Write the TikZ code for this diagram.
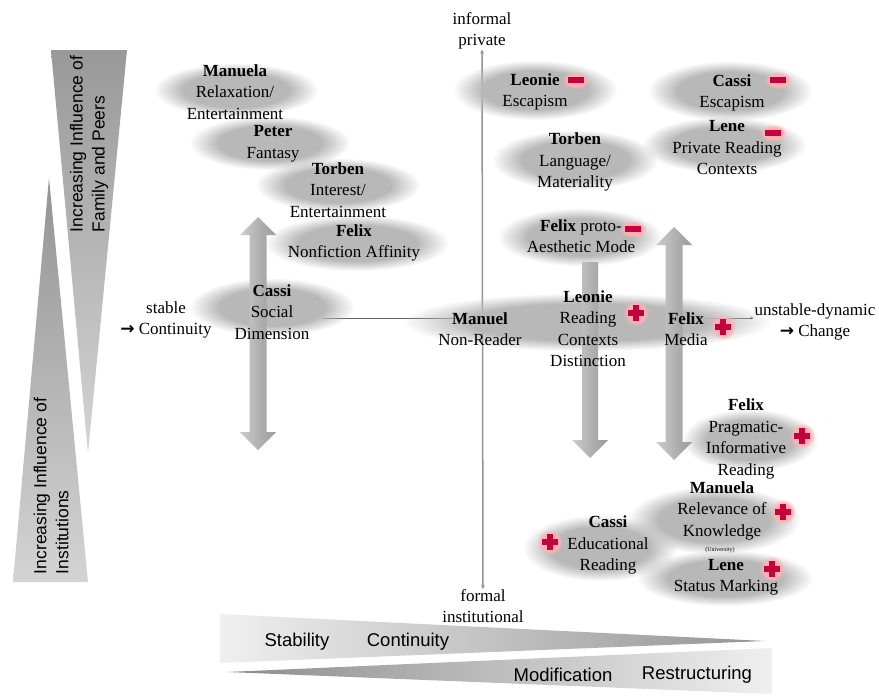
\documentclass[tikz,border=0pt]{standalone}
\usepackage{fontspec}
\setmainfont{Liberation Serif}
\newfontfamily\arialf{Liberation Sans}
\newfontfamily\djv{DejaVu Sans}
\usetikzlibrary{fadings,arrows.meta}
\pgfdeclareradialshading{blobshade}{\pgfpointorigin}{color(0bp)=(pgftransparent!0); color(16bp)=(pgftransparent!0); color(25bp)=(pgftransparent!100); color(50bp)=(pgftransparent!100)}
\pgfdeclarefading{blobfade}{\pgfuseshading{blobshade}}
\definecolor{crim}{RGB}{196,0,62}
\newcommand{\rarr}{{\djv\bfseries\fontsize{17}{17}\selectfont →}}
\tikzset{
  blob/.style={fill=black!28, path fading=blobfade},
  lab/.style={align=center, inner sep=0pt, font=\fontsize{17}{21.5}\selectfont},
  side/.style={align=left, inner sep=0pt, rotate=90, font=\arialf\fontsize{17.5}{22}\selectfont},
  bar/.style={inner sep=0pt, font=\arialf\fontsize{18.5}{22}\selectfont},
  axis/.style={draw=black!42, line width=1.5pt},
  hline/.style={draw=black!62, line width=1pt},
  mk/.style={fill=crim},
  glow/.style={fill=red!30, path fading=blobfade},
  bigarrow/.style={left color=black!20, right color=black!40},
  minusm/.pic={\fill[glow] (0,0) ellipse (14 and 9); \fill[mk] (-8,-3) rectangle (8,3);},
  plusm/.pic={\fill[glow] (0,0) circle (13); \fill[mk] (-8,-3) rectangle (8,3); \fill[mk] (-3,-8) rectangle (3,8);}
}
\begin{document}
\begin{tikzpicture}[x=1pt,y=-1pt]
\useasboundingbox (0,0) rectangle (879,696);
\fill[white] (0,0) rectangle (879,696);

% side wedges
\shade[top color=black!40, bottom color=black!17] (51,50) -- (127,50) -- (88,453) -- cycle;
\shade[top color=black!42, bottom color=black!17] (49,178) -- (88,582) -- (13,582) -- cycle;
\node[side] (fam) at (89,144) {Increasing Influence of\\Family and Peers};
\node[side] (inst) at (51,486) {Increasing Influence of\\Institutions};

% bottom bars
\shade[left color=black!6, right color=black!42] (220,614) -- (765,641) -- (220,663) -- cycle;
\shade[left color=black!45, right color=black!6] (227,672) -- (772,648) -- (772,694) -- cycle;
\node[bar] (st) at (297,642) {Stability};
\node[bar] (co) at (408,642) {Continuity};
\node[bar] (mo) at (563,675) {Modification};
\node[bar] (re) at (697,675) {Restructuring};

% axes
\node[lab] (inf) at (482,31) {informal\\private};
\node[lab] (frm) at (483,606) {formal\\institutional};
\draw[axis, {Stealth[length=4pt,width=4pt]}-{Stealth[length=4pt,width=4pt]}] (inf) -- (frm);
\node[lab] (stab) at (166,320) {stable\\\rarr\ Continuity};
\node[lab] (unst) at (815,322) {unstable-dynamic\\\rarr\ Change};
\coordinate (hl) at (322,318);
\draw[hline, -{Stealth[length=3pt,width=3pt]}, shorten >=1pt] (hl) -- (unst.west |- hl);

% blurred ellipses
\fill[blob] (236,90) ellipse (82 and 27);
\fill[blob] (270,143) ellipse (80 and 27);
\fill[blob] (338,185) ellipse (82 and 27);
\fill[blob] (357,243) ellipse (92 and 28);
\fill[blob] (272,307) ellipse (82 and 29);
\fill[blob] (587,322) ellipse (184 and 29);
\fill[blob] (535,90) ellipse (82 and 30);
\fill[blob] (730,91) ellipse (82 and 30);
\fill[blob] (724,145) ellipse (82 and 28);
\fill[blob] (575,160) ellipse (83 and 30);
\fill[blob] (580,237) ellipse (82 and 29);
\fill[blob] (750,440) ellipse (68 and 31);
\fill[blob] (714,520) ellipse (86 and 34);
\fill[blob] (600,548) ellipse (77 and 33);
\fill[blob] (725,578) ellipse (88 and 28);

% big gray arrows
\shade[bigarrow] (258,217) -- (276,235) -- (266.5,235) -- (266.5,432) -- (276,432) -- (258,450) -- (240,432) -- (249.5,432) -- (249.5,235) -- (240,235) -- cycle;
\shade[bigarrow] (674,227) -- (692,245) -- (682.5,245) -- (682.5,442) -- (692,442) -- (674,460) -- (656,442) -- (665.5,442) -- (665.5,245) -- (656,245) -- cycle;
\shade[bigarrow] (582,262) -- (598,262) -- (598,440) -- (608,440) -- (590,458) -- (572,440) -- (582,440) -- cycle;

% texts
\node[lab] (t1) at (235,92) {\textbf{Manuela}\\Relaxation/\\Entertainment};
\node[lab] (t2) at (273,144) {\textbf{Peter}\\Fantasy};
\node[lab] (t3) at (338,190) {\textbf{Torben}\\Interest/\\Entertainment};
\node[lab] (t4) at (354,243) {\textbf{Felix}\\Nonfiction Affinity};
\node[lab] (t5) at (272,312) {\textbf{Cassi}\\Social\\Dimension};
\node[lab] (t6) at (480,329) {\textbf{Manuel}\\Non-Reader};
\node[lab] (t7) at (588,328.5) {\textbf{Leonie}\\Reading\\Contexts\\Distinction};
\node[lab] (t8) at (686,329) {\textbf{Felix}\\Media};
\node[lab] (t9) at (535,92) {\textbf{Leonie}\\Escapism};
\node[lab] (t10) at (732,93) {\textbf{Cassi}\\Escapism};
\node[lab] (t11) at (727,148) {\textbf{Lene}\\Private Reading\\Contexts};
\node[lab] (t12) at (575,162) {\textbf{Torben}\\Language/\\Materiality};
\node[lab] (t13) at (581,236) {\textbf{Felix} proto-\\Aesthetic Mode};
\node[lab] (t14) at (746,439) {\textbf{Felix}\\Pragmatic-\\Informative\\Reading};
\node[lab] (t15) at (722,510.5) {\textbf{Manuela}\\Relevance of\\Knowledge};
\node[inner sep=0pt, font=\fontsize{6}{7}\selectfont] (t15u) at (720,550) {(University)};
\node[lab] (t16) at (608,545) {\textbf{Cassi}\\Educational\\Reading};
\node[lab] (t17) at (726,577.5) {\textbf{Lene}\\Status Marking};

% markers
\pic at (576,80) {minusm};
\pic at (778,80) {minusm};
\pic at (773,133) {minusm};
\pic at (633,229) {minusm};
\pic at (636,313) {plusm};
\pic at (723,327) {plusm};
\pic at (802,436) {plusm};
\pic at (783,512) {plusm};
\pic at (550,542) {plusm};
\pic at (772,569) {plusm};
\end{tikzpicture}
\end{document}
